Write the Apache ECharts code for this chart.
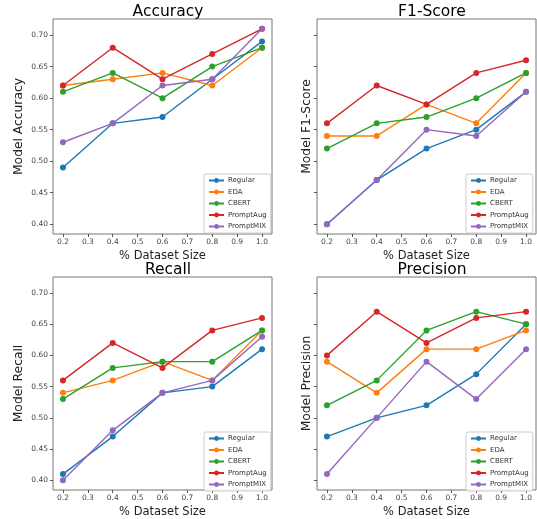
<!DOCTYPE html>
<html>
<head>
<meta charset="utf-8">
<script src="https://cdn.jsdelivr.net/npm/echarts@6/dist/echarts.min.js"></script>
<style>
html, body { margin: 0; padding: 0; background: #fff; }
#chart { width: 537px; height: 519px; }
</style>
</head>
<body>
<div id="chart"></div>
<script>
var sizes = [0.2, 0.4, 0.6, 0.8, 1.0];
var methods = ['Regular', 'EDA', 'CBERT', 'PromptAug', 'PromptMIX'];
var colors = ['#1f77b4', '#ff7f0e', '#2ca02c', '#d62728', '#9467bd'];
var xTicks = [0.2, 0.3, 0.4, 0.5, 0.6, 0.7, 0.8, 0.9, 1.0];
var yTicks = [0.40, 0.45, 0.50, 0.55, 0.60, 0.65, 0.70];

var accuracy = {
    Regular:   [0.49, 0.56, 0.57, 0.63, 0.69],
    EDA:       [0.62, 0.63, 0.64, 0.62, 0.68],
    CBERT:     [0.61, 0.64, 0.60, 0.65, 0.68],
    PromptAug: [0.62, 0.68, 0.63, 0.67, 0.71],
    PromptMIX: [0.53, 0.56, 0.62, 0.63, 0.71]
};
var f1Score = {
    Regular:   [0.40, 0.47, 0.52, 0.55, 0.61],
    EDA:       [0.54, 0.54, 0.59, 0.56, 0.64],
    CBERT:     [0.52, 0.56, 0.57, 0.60, 0.64],
    PromptAug: [0.56, 0.62, 0.59, 0.64, 0.66],
    PromptMIX: [0.40, 0.47, 0.55, 0.54, 0.61]
};
var recall = {
    Regular:   [0.41, 0.47, 0.54, 0.55, 0.61],
    EDA:       [0.54, 0.56, 0.59, 0.56, 0.64],
    CBERT:     [0.53, 0.58, 0.59, 0.59, 0.64],
    PromptAug: [0.56, 0.62, 0.58, 0.64, 0.66],
    PromptMIX: [0.40, 0.48, 0.54, 0.56, 0.63]
};
var precision = {
    Regular:   [0.47, 0.50, 0.52, 0.57, 0.65],
    EDA:       [0.59, 0.54, 0.61, 0.61, 0.64],
    CBERT:     [0.52, 0.56, 0.64, 0.67, 0.65],
    PromptAug: [0.60, 0.67, 0.62, 0.66, 0.67],
    PromptMIX: [0.41, 0.50, 0.59, 0.53, 0.61]
};

var panels = [
    { title: 'Accuracy', yName: 'Model Accuracy', data: accuracy, left: 53, top: 19, labels: true },
    { title: 'F1-Score', yName: 'Model F1-Score', data: f1Score, left: 317, top: 19, labels: false },
    { title: 'Recall', yName: 'Model Recall', data: recall, left: 53, top: 277, labels: true },
    { title: 'Precision', yName: 'Model Precision', data: precision, left: 317, top: 277, labels: false }
];

var textColor = '#444';
var font = 'DejaVu Sans';

var chart = echarts.init(document.getElementById('chart'));
var option = {
    animation: false,
    textStyle: { fontFamily: font },
    title: [], grid: [], xAxis: [], yAxis: [], legend: [], series: []
};

panels.forEach(function (p, i) {
    option.title.push({
        text: p.title,
        left: p.left + 110,
        top: p.top - 20,
        textAlign: 'center',
        textStyle: { fontFamily: font, fontSize: 15.5, fontWeight: 'normal', color: '#000' }
    });
    option.grid.push({
        left: p.left, top: p.top, width: 219, height: 215,
        show: true, borderColor: '#777', borderWidth: 1, backgroundColor: 'transparent'
    });
    option.xAxis.push({
        type: 'value', gridIndex: i, min: 0.16, max: 1.04,
        name: '% Dataset Size', nameLocation: 'middle', nameGap: 16,
        nameTextStyle: { fontFamily: font, fontSize: 11.5, color: '#222' },
        axisLine: { show: false },
        axisTick: { show: true, length: 3, lineStyle: { color: '#555' }, customValues: xTicks },
        axisLabel: {
            fontSize: 7.5, color: textColor, margin: 4, customValues: xTicks,
            formatter: function (v) { return v.toFixed(1); }
        },
        splitLine: { show: false }
    });
    option.yAxis.push({
        type: 'value', gridIndex: i, min: 0.3845, max: 0.7255,
        name: p.yName, nameLocation: 'middle', nameGap: p.labels ? 28 : 4,
        nameTextStyle: { fontFamily: font, fontSize: 12.3, color: '#222' },
        axisLine: { show: false },
        axisTick: { show: true, length: 3, lineStyle: { color: '#555' }, customValues: yTicks },
        axisLabel: {
            show: p.labels, fontSize: 7.5, color: textColor, margin: 5, customValues: yTicks,
            formatter: function (v) { return v.toFixed(2); }
        },
        splitLine: { show: false }
    });
    option.legend.push({
        data: methods,
        orient: 'vertical',
        left: p.left + (p.labels ? 151 : 149),
        top: p.top + 155,
        itemWidth: 15, itemHeight: 6, itemGap: 4.5,
        padding: [3, 4, 3, 4],
        borderColor: '#ccc', borderWidth: 1, borderRadius: 2,
        backgroundColor: 'rgba(255,255,255,0.85)',
        textStyle: { fontFamily: font, fontSize: 7, color: '#333', padding: [0, 0, 0, -1] }
    });
    methods.forEach(function (m, k) {
        option.series.push({
            type: 'line', name: m, xAxisIndex: i, yAxisIndex: i,
            data: sizes.map(function (x, j) { return [x, p.data[m][j]]; }),
            symbol: 'circle', symbolSize: 6, showSymbol: true,
            color: colors[k],
            lineStyle: { width: 1.4, color: colors[k] },
            itemStyle: { color: colors[k] }
        });
    });
});

chart.setOption(option);
</script>
</body>
</html>
